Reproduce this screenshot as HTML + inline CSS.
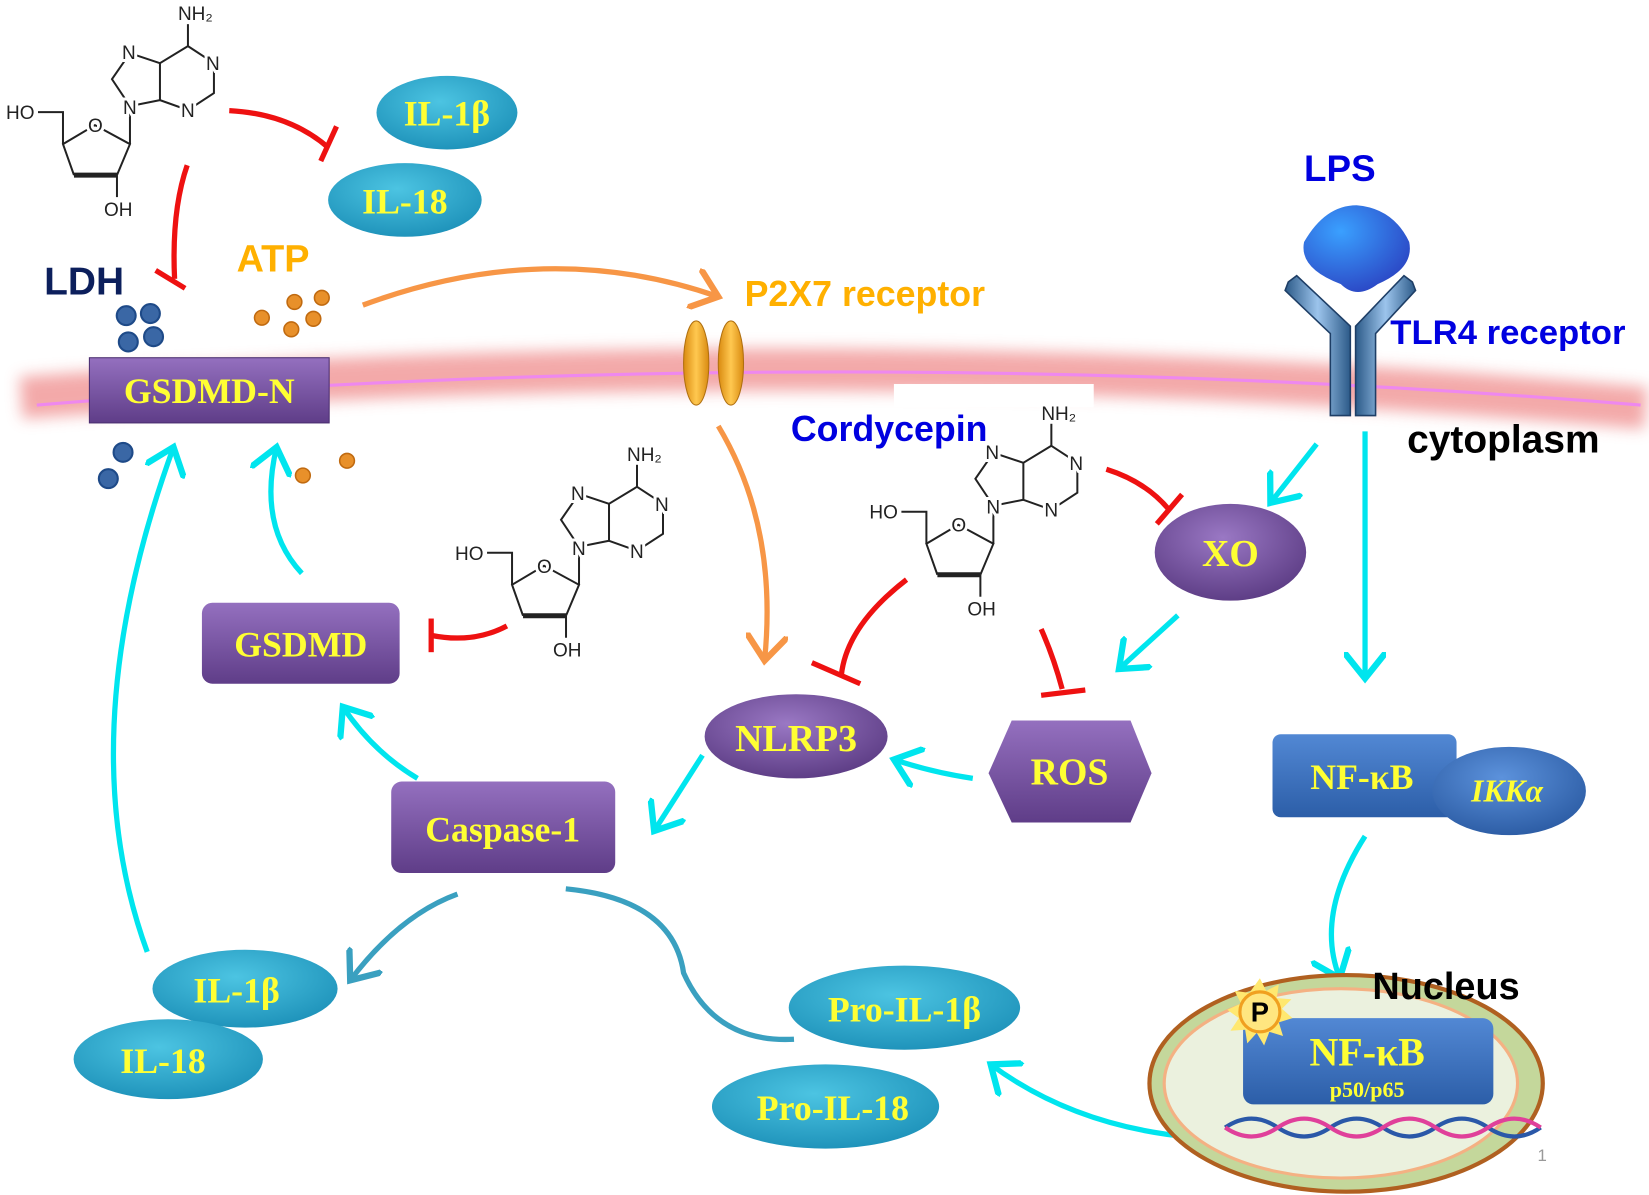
<!DOCTYPE html>
<html><head><meta charset="utf-8"><style>
html,body{margin:0;padding:0;background:#fff;}
svg{display:block;}
.sv{font-family:"Liberation Serif",serif;font-weight:bold;fill:#ffff33;}
.ss{font-family:"Liberation Sans",sans-serif;font-weight:bold;}
.mt{font-family:"Liberation Sans",sans-serif;font-size:19px;fill:#222;stroke:#fff;stroke-width:6px;paint-order:stroke;}
</style></head><body>
<svg width="1649" height="1195" viewBox="0 0 1568 1136" xmlns="http://www.w3.org/2000/svg">
<defs>
<linearGradient id="pu" x1="0" y1="0" x2="0" y2="1"><stop offset="0" stop-color="#9470bf"/><stop offset="1" stop-color="#5f3d88"/></linearGradient>
<radialGradient id="pe" cx="0.45" cy="0.35" r="0.7"><stop offset="0" stop-color="#9a78c4"/><stop offset="1" stop-color="#5a3a82"/></radialGradient>
<radialGradient id="te" cx="0.45" cy="0.35" r="0.7"><stop offset="0" stop-color="#4cc4e2"/><stop offset="1" stop-color="#1c90b8"/></radialGradient>
<linearGradient id="bl" x1="0" y1="0" x2="0" y2="1"><stop offset="0" stop-color="#5288d4"/><stop offset="1" stop-color="#2c5ea8"/></linearGradient>
<radialGradient id="ble" cx="0.45" cy="0.35" r="0.7"><stop offset="0" stop-color="#5c92dc"/><stop offset="1" stop-color="#2a5aa2"/></radialGradient>
<radialGradient id="lps" cx="0.35" cy="0.3" r="0.8"><stop offset="0" stop-color="#3aa0ff"/><stop offset="1" stop-color="#2a40c0"/></radialGradient>
<linearGradient id="or" x1="0" y1="0" x2="1" y2="0"><stop offset="0" stop-color="#d98a10"/><stop offset="0.5" stop-color="#ffc850"/><stop offset="1" stop-color="#d98a10"/></linearGradient>
<linearGradient id="tl" x1="0" y1="0" x2="1" y2="0"><stop offset="0" stop-color="#2c5a88"/><stop offset="0.5" stop-color="#9cc4ec"/><stop offset="1" stop-color="#2c5a88"/></linearGradient>
<filter id="bl1" x="-10%" y="-100%" width="120%" height="300%"><feGaussianBlur stdDeviation="7"/></filter>
<marker id="ac" markerWidth="8" markerHeight="8" refX="5" refY="4" orient="auto" markerUnits="strokeWidth"><path d="M0,0 L5,4 L0,8" fill="none" stroke="#00e5ee" stroke-width="1.2"/></marker>
<marker id="ao" markerWidth="8" markerHeight="8" refX="5" refY="4" orient="auto" markerUnits="strokeWidth"><path d="M0,0 L5,4 L0,8" fill="none" stroke="#f79646" stroke-width="1.2"/></marker>
<marker id="at" markerWidth="8" markerHeight="8" refX="5" refY="4" orient="auto" markerUnits="strokeWidth"><path d="M0,0 L5,4 L0,8" fill="none" stroke="#3aa0c0" stroke-width="1.2"/></marker>
</defs>

<path d="M20,378 Q800,320 1565,388" stroke="#f2a0a0" stroke-width="40" fill="none" filter="url(#bl1)" opacity="0.9"/>
<path d="M35,385 Q800,322 1560,385" stroke="#ee88ee" stroke-width="3" fill="none"/>

<g transform="translate(0,0) scale(0.9506)">
<g stroke="#222" stroke-width="2" fill="none"><polyline points="188,46 214,63 214,93 188,110 160,100 160,63 188,46"/><polyline points="160,63 130,53 112,79 130,106 160,100"/><line x1="188" y1="46" x2="188" y2="24"/><line x1="130" y1="106" x2="130" y2="144"/><polyline points="117,175 130,144 95,125 63,144 74,175"/><line x1="74" y1="175" x2="117" y2="175" stroke-width="5"/><polyline points="38,112 63,112 63,144"/><line x1="117" y1="175" x2="117" y2="197"/></g>
<text class="mt" x="178" y="20">NH₂</text><text class="mt" x="206" y="70">N</text><text class="mt" x="181" y="117">N</text><text class="mt" x="122" y="59">N</text><text class="mt" x="123" y="114">N</text><text class="mt" x="88" y="132">O</text><text class="mt" x="6" y="119">HO</text><text class="mt" x="104" y="216">OH</text></g>
<g transform="translate(427,419) scale(0.9506)">
<g stroke="#222" stroke-width="2" fill="none"><polyline points="188,46 214,63 214,93 188,110 160,100 160,63 188,46"/><polyline points="160,63 130,53 112,79 130,106 160,100"/><line x1="188" y1="46" x2="188" y2="24"/><line x1="130" y1="106" x2="130" y2="144"/><polyline points="117,175 130,144 95,125 63,144 74,175"/><line x1="74" y1="175" x2="117" y2="175" stroke-width="5"/><polyline points="38,112 63,112 63,144"/><line x1="117" y1="175" x2="117" y2="197"/></g>
<text class="mt" x="178" y="20">NH₂</text><text class="mt" x="206" y="70">N</text><text class="mt" x="181" y="117">N</text><text class="mt" x="122" y="59">N</text><text class="mt" x="123" y="114">N</text><text class="mt" x="88" y="132">O</text><text class="mt" x="6" y="119">HO</text><text class="mt" x="104" y="216">OH</text></g>
<rect x="850" y="365" width="190" height="22" fill="#fff"/>
<g transform="translate(821,380) scale(0.9506)">
<g stroke="#222" stroke-width="2" fill="none"><polyline points="188,46 214,63 214,93 188,110 160,100 160,63 188,46"/><polyline points="160,63 130,53 112,79 130,106 160,100"/><line x1="188" y1="46" x2="188" y2="24"/><line x1="130" y1="106" x2="130" y2="144"/><polyline points="117,175 130,144 95,125 63,144 74,175"/><line x1="74" y1="175" x2="117" y2="175" stroke-width="5"/><polyline points="38,112 63,112 63,144"/><line x1="117" y1="175" x2="117" y2="197"/></g>
<text class="mt" x="178" y="20">NH₂</text><text class="mt" x="206" y="70">N</text><text class="mt" x="181" y="117">N</text><text class="mt" x="122" y="59">N</text><text class="mt" x="123" y="114">N</text><text class="mt" x="88" y="132">O</text><text class="mt" x="6" y="119">HO</text><text class="mt" x="104" y="216">OH</text></g>

<g stroke="#ee1111" stroke-width="5" fill="none">
<path d="M218,105 Q275,108 312,140"/><path d="M320,120 L305,153"/>
<path d="M178,157 Q163,200 166,265"/><path d="M148,257 L176,274"/>
<path d="M482,595 Q450,612 410,604"/><path d="M410,588 L410,620"/>
<path d="M1052,446 Q1090,458 1112,485"/><path d="M1124,470 L1100,498"/>
<path d="M862,551 Q805,595 800,642"/><path d="M772,630 L818,650"/>
<path d="M990,598 Q1002,625 1010,655"/><path d="M990,661 L1032,656"/>
</g>

<path d="M345,290 Q520,225 683,282" stroke="#f79646" stroke-width="5" fill="none" marker-end="url(#ao)"/>
<path d="M683,405 Q740,500 727,628" stroke="#f79646" stroke-width="5" fill="none" marker-end="url(#ao)"/>
<ellipse cx="662" cy="345" rx="12" ry="40" fill="url(#or)" stroke="#b07010"/>
<ellipse cx="695" cy="345" rx="12" ry="40" fill="url(#or)" stroke="#b07010"/>

<g stroke="#00e5ee" stroke-width="5" fill="none" marker-end="url(#ac)">
<path d="M1252,422 L1208,478"/>
<path d="M1298,410 L1298,645"/>
<path d="M1120,585 L1064,636"/>
<path d="M925,740 Q885,734 850,722"/>
<path d="M668,718 L622,790"/>
<path d="M397,740 Q355,715 326,672"/>
<path d="M287,545 Q245,500 263,425"/>
<path d="M140,905 Q65,700 165,425"/>
<path d="M1298,795 Q1250,870 1274,930"/>
<path d="M1215,1082 Q1050,1092 942,1012"/>
</g>
<path d="M435,850 Q380,870 333,932" stroke="#3aa0c0" stroke-width="5" fill="none" marker-end="url(#at)"/>
<path d="M538,845 Q640,855 650,925 Q680,992 755,988" stroke="#3aa0c0" stroke-width="5" fill="none"/>

<g fill="#3a67a5" stroke="#1e4a88" stroke-width="2"><circle cx="120" cy="300" r="9"/><circle cx="143" cy="298" r="9"/><circle cx="122" cy="325" r="9"/><circle cx="146" cy="320" r="9"/><circle cx="117" cy="430" r="9"/><circle cx="103" cy="455" r="9"/></g>
<g fill="#e8902a" stroke="#c06a10" stroke-width="1.5"><circle cx="249" cy="302" r="7"/><circle cx="280" cy="287" r="7"/><circle cx="306" cy="283" r="7"/><circle cx="298" cy="303" r="7"/><circle cx="277" cy="313" r="7"/><circle cx="288" cy="452" r="7"/><circle cx="330" cy="438" r="7"/></g>

<text class="ss" x="42" y="280" font-size="37" fill="#0c1f5c">LDH</text>
<text class="ss" x="225" y="258" font-size="36" fill="#ffb000">ATP</text>
<text class="ss" x="708" y="291" font-size="34" fill="#ffb000">P2X7 receptor</text>
<text class="ss" x="1240" y="172" font-size="35" fill="#0000e0">LPS</text>
<text class="ss" x="1322" y="327" font-size="33" fill="#0000e0">TLR4 receptor</text>
<text class="ss" x="1338" y="430" font-size="37" fill="#000">cytoplasm</text>
<text class="ss" x="752" y="419" font-size="34" fill="#0000e0">Cordycepin</text>

<path d="M1240,230 Q1260,195 1290,195 Q1325,198 1340,230 Q1345,255 1310,270 Q1290,285 1275,270 Q1235,255 1240,230Z" fill="url(#lps)"/>
<g stroke="#1e3e66" stroke-width="1.5" fill="url(#tl)">
<path d="M1225,268 L1233,262 L1284,310 L1284,395 L1265,395 L1265,317 L1222,276Z"/>
<path d="M1343,268 L1335,262 L1289,310 L1289,395 L1308,395 L1308,317 L1346,276Z"/>
</g>

<ellipse cx="425" cy="107" rx="67" ry="35" fill="url(#te)"/>
<text class="sv" x="425" y="119" font-size="34" text-anchor="middle">IL-1β</text>
<ellipse cx="385" cy="190" rx="73" ry="35" fill="url(#te)"/>
<text class="sv" x="385" y="203" font-size="34" text-anchor="middle">IL-18</text>

<rect x="85" y="340" width="228" height="62" fill="url(#pu)" stroke="#4a2e70"/>
<text class="sv" x="199" y="383" font-size="34" text-anchor="middle">GSDMD-N</text>
<rect x="192" y="573" width="188" height="77" rx="10" fill="url(#pu)"/>
<text class="sv" x="286" y="624" font-size="34" text-anchor="middle">GSDMD</text>
<rect x="372" y="743" width="213" height="87" rx="10" fill="url(#pu)"/>
<text class="sv" x="478" y="800" font-size="34" text-anchor="middle">Caspase-1</text>
<ellipse cx="1170" cy="525" rx="72" ry="46" fill="url(#pe)"/>
<text class="sv" x="1170" y="538" font-size="36" text-anchor="middle">XO</text>
<ellipse cx="757" cy="700" rx="87" ry="40" fill="url(#pe)"/>
<text class="sv" x="757" y="714" font-size="36" text-anchor="middle">NLRP3</text>
<polygon points="940,735 962,685 1075,685 1095,735 1075,782 962,782" fill="url(#pu)"/>
<text class="sv" x="1017" y="746" font-size="36" text-anchor="middle">ROS</text>

<rect x="1210" y="698" width="175" height="79" rx="8" fill="url(#bl)"/>
<text class="sv" x="1295" y="750" font-size="34" text-anchor="middle">NF-κB</text>
<ellipse cx="1435" cy="752" rx="73" ry="42" fill="url(#ble)"/>
<text class="sv" x="1433" y="762" font-size="30" text-anchor="middle" font-style="italic">IKKα</text>

<ellipse cx="233" cy="940" rx="88" ry="37" fill="url(#te)"/>
<text class="sv" x="225" y="953" font-size="34" text-anchor="middle">IL-1β</text>
<ellipse cx="160" cy="1007" rx="90" ry="38" fill="url(#te)"/>
<text class="sv" x="155" y="1020" font-size="34" text-anchor="middle">IL-18</text>
<ellipse cx="860" cy="958" rx="110" ry="40" fill="url(#te)"/>
<text class="sv" x="860" y="971" font-size="34" text-anchor="middle">Pro-IL-1β</text>
<ellipse cx="785" cy="1052" rx="108" ry="40" fill="url(#te)"/>
<text class="sv" x="792" y="1065" font-size="34" text-anchor="middle">Pro-IL-18</text>

<ellipse cx="1280" cy="1030" rx="187" ry="103" fill="#c4d79b" stroke="#b06020" stroke-width="4"/>
<ellipse cx="1275" cy="1030" rx="168" ry="90" fill="#ebf1de" stroke="#f4b183" stroke-width="3"/>
<text class="ss" x="1305" y="950" font-size="36" fill="#000">Nucleus</text>
<rect x="1182" y="968" width="238" height="82" rx="10" fill="url(#bl)"/>
<text class="sv" x="1300" y="1013" font-size="38" text-anchor="middle">NF-κB</text>
<text class="sv" x="1300" y="1043" font-size="21" text-anchor="middle">p50/p65</text>
<g transform="translate(1198,962)">
<polygon points="0,-32 6,-20 18,-26 16,-13 30,-12 21,-3 31,6 18,10 22,23 9,19 4,32 -3,20 -12,30 -14,17 -28,18 -20,6 -31,-2 -18,-8 -24,-20 -10,-18" fill="#ffe870"/>
<circle r="19" fill="#ffe680" stroke="#f0a020" stroke-width="3"/>
<text class="ss" x="0" y="9" font-size="26" fill="#000" text-anchor="middle">P</text></g>
<g fill="none" stroke-width="4">
<path d="M1165,1072 Q1190,1055 1215,1072 T1265,1072 T1315,1072 T1365,1072 T1415,1072 T1465,1072" stroke="#2a58a8"/>
<path d="M1165,1072 Q1190,1089 1215,1072 T1265,1072 T1315,1072 T1365,1072 T1415,1072 T1465,1072" stroke="#e0409a"/>
</g>
<text x="1462" y="1104" font-family="Liberation Sans,sans-serif" font-size="16" fill="#999">1</text>
</svg>
</body></html>
